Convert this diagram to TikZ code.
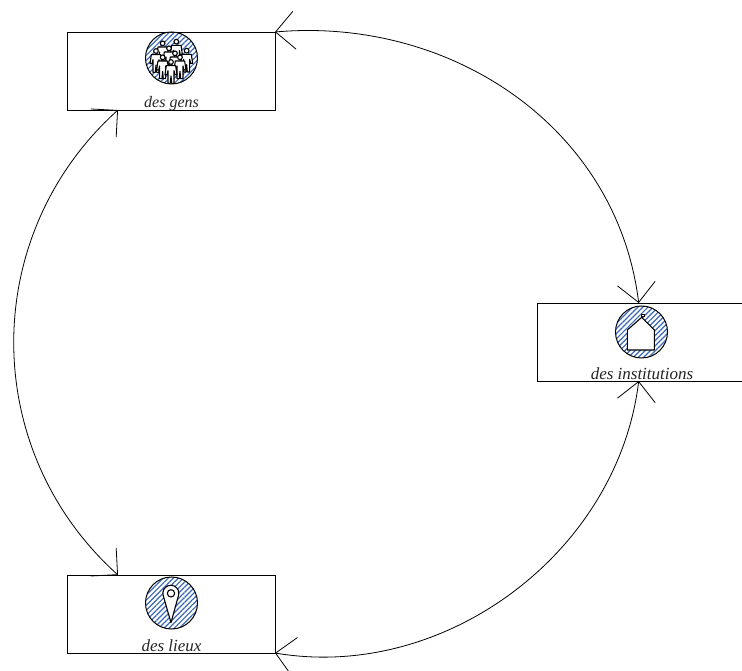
\documentclass[tikz,border=0pt]{standalone}
\usepackage{fontspec}
\setmainfont{Liberation Serif}
\usetikzlibrary{arrows.meta,patterns.meta,positioning}
\definecolor{hatch}{HTML}{3A68B4}
\tikzset{
  x=1pt,y=1pt,
  box/.style={draw=black,line width=0.9pt,fill=white,minimum width=208pt,minimum height=78pt,inner sep=0pt,outer sep=0pt},
  iconcircle/.style={circle,draw=black,line width=1pt,minimum size=52pt,inner sep=0pt,
    pattern={Lines[angle=45,distance=3.6pt,line width=1.2pt]},pattern color=hatch},
  lab/.style={font=\itshape\fontsize{#1}{18}\selectfont,anchor=base,inner sep=0pt,text=black!85},
  link/.style={draw=black,line width=0.8pt,{Straight Barb[length=19pt,width=38pt,line width=0.8pt]}-{Straight Barb[length=19pt,width=38pt,line width=0.8pt]}},
  icon/.style={draw=black,fill=white,line width=1.1pt,line join=round},
}
\newcommand{\person}[2]{%
  \fill[white,draw=black,line width=1.1pt] (#1,#2) circle (7);
  \fill[white,draw=black,line width=1.1pt,line join=round]
    (#1-14,#2+11) -- (#1+14,#2+11) -- (#1+18,#2+38) -- (#1+12,#2+38) -- (#1+9,#2+26)
    -- (#1+9,#2+64) -- (#1+2,#2+64) -- (#1,#2+42) -- (#1-2,#2+64) -- (#1-9,#2+64)
    -- (#1-9,#2+26) -- (#1-12,#2+38) -- (#1-18,#2+38) -- cycle;
}
\begin{document}
\begin{tikzpicture}
\useasboundingbox (0,0) rectangle (742,670);
\node[box] (gens) at (171,599) {};
\node[box,minimum width=205pt] (inst) at (639.5,328) {};
\node[box] (lieux) at (171,56) {};
\node[iconcircle] (cg) at (171.5,612) {};
\node[iconcircle] (ci) at (641.5,338) {};
\node[iconcircle] (cl) at (171.5,67) {};
\node[lab=16] (lg) at (171.5,562) {des gens};
\node[lab=17] (li) at (642,290) {des institutions};
\node[lab=17] (ll) at (171.5,19) {des lieux};
% people
\begin{scope}[shift={(60,670)},x=0.3333pt,y=-0.3333pt]
  \person{308}{130}\person{349}{125}
  \person{288}{153}\person{380}{152}
  \person{327}{145}
  \person{345}{160}
  \person{360}{172}\person{308}{172}
  \person{333}{186}
\end{scope}
% house
\begin{scope}[shift={(530,400)},x=0.3333pt,y=-0.3333pt]
  \draw[icon] (292,240) -- (373,240) -- (373,180) -- (335,142) -- (292,180) -- cycle;
  \draw[icon,line width=0.8pt] (334,132) rectangle (342,140);
\end{scope}
% pin
\begin{scope}[shift={(60,130)},x=0.3333pt,y=-0.3333pt]
  \draw[icon] (333,248) -- (310,168) arc[start angle=160,end angle=380,radius=24] -- cycle;
  \draw[icon] (333,160) circle (11);
\end{scope}
\draw[link] (gens.north east) to[out=5,in=97,looseness=1] ([xshift=-0.8pt]inst.north);
\draw[link] (lieux.south east) to[out=350.4,in=263.1,looseness=0.97] ([xshift=-0.8pt]inst.south);
\draw[link] ([xshift=51pt]gens.south west) to[out=222,in=138,looseness=1.03] ([xshift=51pt]lieux.north west);
\end{tikzpicture}
\end{document}
